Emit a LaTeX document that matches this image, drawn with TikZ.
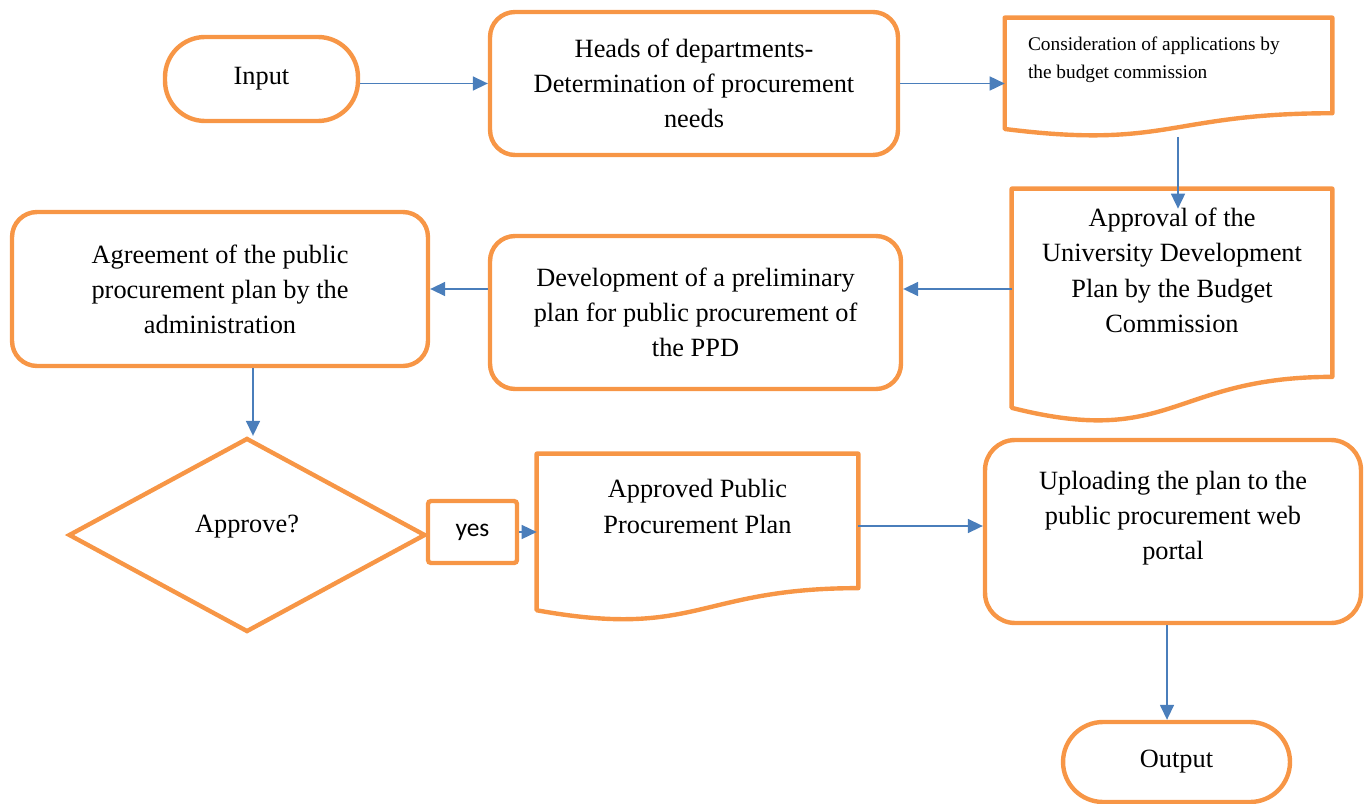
\documentclass[tikz,border=0pt]{standalone}
\usepackage{fontspec}
\setmainfont{Liberation Serif}
\newfontfamily\yesfont{Carlito}
\usetikzlibrary{shapes.geometric,arrows.meta,calc}

\definecolor{boxorange}{HTML}{F79646}
\definecolor{flowblue}{HTML}{4A7EBB}

% outline of a document shape (wavy bottom) round a node
\newcommand{\docframe}[1]{%
  \draw[line width=2.5pt,boxorange,line join=round] (#1.north west) -- (#1.north east)
    -- ($(#1.north east)!0.802!(#1.south east)$)
    .. controls ($(#1.north)!0.802!(#1.south)$) and ($(#1.north)!1.1075!(#1.south)$)
    .. ($(#1.north west)!0.934!(#1.south west)$) -- cycle;}

\begin{document}
\begin{tikzpicture}[x=0.02cm,y=-0.02cm,
  every node/.style={font=\fontsize{15}{20}\selectfont},
  box/.style={draw=boxorange,line width=2.5pt,rounded corners=0.5cm,align=center,inner sep=0pt},
  term/.style={draw=boxorange,line width=2.5pt,rounded corners=0.8cm,inner sep=0pt},
  decision/.style={draw=boxorange,line width=2.5pt,diamond,inner sep=0pt},
  doc/.style={inner sep=0pt},
  flow/.style={flowblue,line width=0.9pt,-{Triangle[length=0.3cm,width=0.28cm]}}]
\useasboundingbox (0,0) rectangle (1365,804);

% first row
\node[term,minimum width=3.86cm,minimum height=1.68cm] (input) at (261.5,79) {Input};
\node[box,minimum width=8.16cm,minimum height=2.86cm] (heads) at (694,83.5)
  {Heads of departments-\\Determination of procurement\\needs};
\node[doc] (cons) at (1168.5,77.25) {\parbox[c][2.37cm][t]{6.54cm}{%
  \fontsize{11}{16}\selectfont\raggedright\leftskip=0.46cm
  \vspace*{7.5pt}\strut Consideration of applications by\\the budget commission}};
\docframe{cons}

% second row
\node[doc] (approval) at (1172,306) {\parbox[c][4.68cm][t]{6.4cm}{\centering
  \vspace*{7.5pt}\strut Approval of the\\University Development\\Plan by the Budget\\Commission}};
\docframe{approval}
\node[box,minimum width=8.22cm,minimum height=3.06cm] (dev) at (695.5,312.5)
  {Development of a preliminary\\plan for public procurement of\\the PPD};
\node[box,minimum width=8.32cm,minimum height=3.08cm] (agree) at (220,289)
  {Agreement of the public\\procurement plan by the\\administration};

% third row
\node[decision,minimum width=7.14cm,minimum height=3.88cm,text depth=0.45cm] (dia) at (247,535) {Approve?};
\node[box,rounded corners=0.06cm,minimum width=1.78cm,minimum height=1.24cm,
  font=\yesfont\fontsize{14.5}{18}\selectfont] (yes) at (472.5,532) {yes};
\node[doc] (approved) at (697.5,537.5) {\parbox[c][3.34cm][t]{6.42cm}{\centering
  \vspace*{11pt}\strut Approved Public\\Procurement Plan}};
\docframe{approved}
\node[box,rounded corners=0.6cm] (upload) at (1173,531.5) {\parbox[c][3.66cm][t]{7.52cm}{\centering
  \vspace*{14pt}\strut Uploading the plan to the\\public procurement web\\portal}};
\node[term,minimum width=4.54cm,minimum height=1.6cm] (output) at (1176.5,762) {Output};

% connectors
\coordinate (apptop) at ([xshift=0.12cm,yshift=-0.4cm]approval.north);
\draw[flow] (input.east |- heads.west) -- (heads.west);
\draw[flow] (heads.east) -- (heads.east -| cons.west);
\draw[flow] (cons.south -| apptop) -- (apptop);
\draw[flow] (approval.west |- agree.east) -- (dev.east |- agree.east);
\draw[flow] (dev.west |- agree.east) -- (agree.east);
\draw[flow] ([xshift=0.12cm]agree.south -| dia.north) -- ([xshift=0.12cm]dia.north);
\draw[flow] (yes.east) -- (yes.east -| approved.west);
\draw[flow] ([yshift=0.23cm]approved.east) -- ([yshift=0.23cm]approved.east -| upload.west);
\draw[flow] ([xshift=-0.12cm]upload.south) -- ([xshift=-0.12cm]upload.south |- output.north);
\end{tikzpicture}
\end{document}
